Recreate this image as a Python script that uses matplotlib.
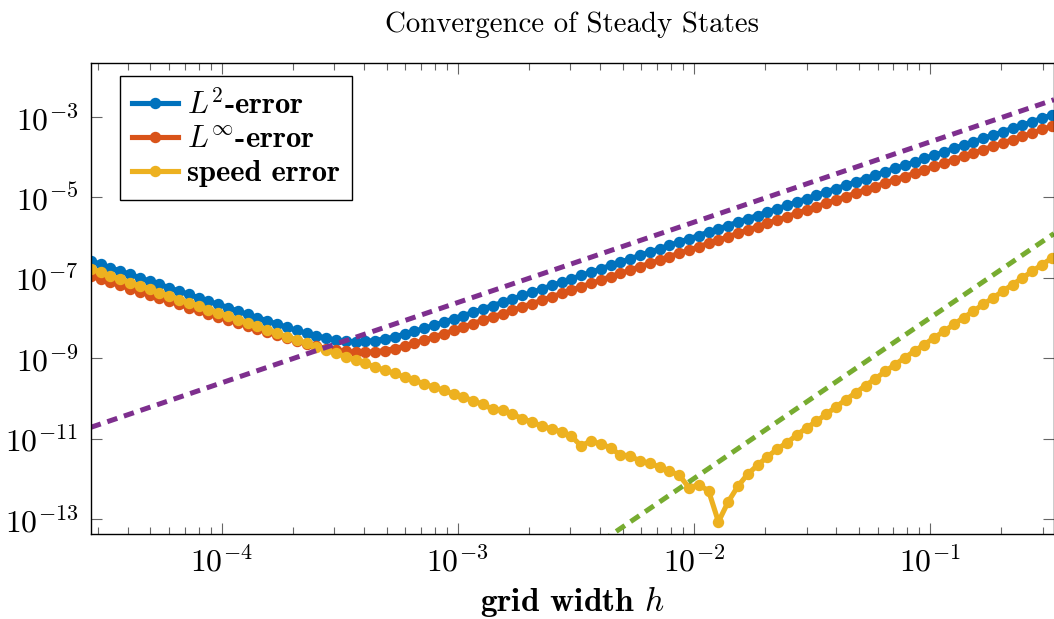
import numpy as np
import matplotlib
matplotlib.use("Agg")
import matplotlib.pyplot as plt
from matplotlib.ticker import FixedLocator, NullLocator, LogLocator

plt.rcParams["font.family"] = "cmr10"
plt.rcParams["mathtext.fontset"] = "cm"
plt.rcParams["axes.formatter.use_mathtext"] = True

# grid widths: 99 geometrically spaced values
h_min, h_max, n_points = 10**-4.554, 10**-0.484, 99
h = np.geomspace(h_min, h_max, n_points)

# log10 of the errors
l2_log = [
    -6.58, -6.66, -6.75, -6.83, -6.91, -7.00, -7.08, -7.16, -7.25, -7.33,
    -7.41, -7.50, -7.58, -7.66, -7.74, -7.83, -7.91, -7.99, -8.07, -8.15,
    -8.23, -8.31, -8.38, -8.44, -8.50, -8.55, -8.58, -8.59, -8.58, -8.56,
    -8.52, -8.47, -8.40, -8.33, -8.26, -8.18, -8.10, -8.02, -7.94, -7.86,
    -7.77, -7.69, -7.61, -7.53, -7.44, -7.36, -7.28, -7.19, -7.11, -7.03,
    -6.94, -6.86, -6.78, -6.69, -6.61, -6.53, -6.44, -6.36, -6.28, -6.19,
    -6.11, -6.03, -5.95, -5.86, -5.78, -5.70, -5.61, -5.53, -5.45, -5.36,
    -5.28, -5.20, -5.11, -5.03, -4.95, -4.86, -4.78, -4.70, -4.61, -4.53,
    -4.45, -4.36, -4.28, -4.20, -4.12, -4.03, -3.95, -3.87, -3.78, -3.70,
    -3.62, -3.53, -3.45, -3.37, -3.28, -3.20, -3.12, -3.03, -2.95]

linf_log = [
    -6.96, -7.03, -7.11, -7.19, -7.27, -7.35, -7.42, -7.50, -7.58, -7.66,
    -7.74, -7.81, -7.89, -7.97, -8.05, -8.12, -8.20, -8.28, -8.35, -8.43,
    -8.50, -8.57, -8.64, -8.70, -8.76, -8.80, -8.83, -8.85, -8.85, -8.84,
    -8.81, -8.76, -8.70, -8.63, -8.55, -8.47, -8.39, -8.31, -8.22, -8.14,
    -8.05, -7.97, -7.89, -7.81, -7.72, -7.64, -7.56, -7.47, -7.39, -7.31,
    -7.22, -7.14, -7.06, -6.97, -6.89, -6.81, -6.72, -6.64, -6.56, -6.47,
    -6.39, -6.31, -6.23, -6.14, -6.06, -5.98, -5.89, -5.81, -5.73, -5.64,
    -5.56, -5.48, -5.39, -5.31, -5.23, -5.14, -5.06, -4.98, -4.89, -4.81,
    -4.73, -4.64, -4.56, -4.48, -4.40, -4.31, -4.23, -4.15, -4.06, -3.98,
    -3.90, -3.81, -3.73, -3.65, -3.56, -3.48, -3.40, -3.31, -3.23]

speed_log = [
    -6.78, -6.86, -6.95, -7.03, -7.12, -7.20, -7.28, -7.37, -7.45, -7.54,
    -7.62, -7.70, -7.79, -7.87, -7.96, -8.04, -8.12, -8.21, -8.29, -8.38,
    -8.46, -8.54, -8.63, -8.71, -8.80, -8.88, -8.96, -9.05, -9.13, -9.22,
    -9.30, -9.38, -9.47, -9.55, -9.64, -9.72, -9.80, -9.89, -9.97, -10.06,
    -10.15, -10.27, -10.29, -10.40, -10.50, -10.59, -10.69, -10.76, -10.83, -10.94,
    -11.18, -11.06, -11.13, -11.23, -11.41, -11.43, -11.56, -11.61, -11.71, -11.81,
    -11.91, -12.22, -12.15, -12.30, -13.07, -12.57, -12.18, -11.88, -11.66, -11.45,
    -11.26, -11.10, -10.91, -10.73, -10.57, -10.39, -10.21, -10.03, -9.86, -9.68,
    -9.51, -9.33, -9.16, -8.99, -8.82, -8.66, -8.49, -8.33, -8.16, -7.99,
    -7.83, -7.66, -7.50, -7.33, -7.17, -7.00, -6.84, -6.67, -6.51]

# reference slopes (h^2 and h^4), end points in log10
ref_x = [h_min, 10**-0.475]
ref2_log = [-10.72, -2.57]
ref4_log = [-22.2, -5.9]

colors = {"l2": "#0072BD", "linf": "#D95319", "speed": "#EDB120",
          "ref2": "#7E2F8E", "ref4": "#77AC30"}

fig = plt.figure(figsize=(10.54, 6.19), dpi=100)
ax = fig.add_axes([0.0861, 0.1368, 0.9139, 0.7619])

lw, ms = 3.7, 7.2
ax.loglog(h, 10.0**np.array(l2_log), "-o", color=colors["l2"], lw=lw, ms=ms,
          label=r"$L^2$-error")
ax.loglog(h, 10.0**np.array(linf_log), "-o", color=colors["linf"], lw=lw, ms=ms,
          label=r"$L^\infty$-error")
ax.loglog(h, 10.0**np.array(speed_log), "-o", color=colors["speed"], lw=lw, ms=ms,
          label="speed error")
ax.loglog(ref_x, 10.0**np.array(ref2_log), color=colors["ref2"], lw=3.6,
          dashes=(2.1, 1.4), dash_capstyle="butt")
ax.loglog(ref_x, 10.0**np.array(ref4_log), color=colors["ref4"], lw=3.6,
          dashes=(2.1, 1.4), dash_capstyle="butt")

ax.set_xlim(10**-4.554, 10**-0.475)
ax.set_ylim(10**-13.381, 10**-1.649)

ax.yaxis.set_major_locator(FixedLocator(10.0**np.arange(-13, -2, 2)))
ax.yaxis.set_minor_locator(NullLocator())
ax.xaxis.set_major_locator(LogLocator(base=10, numticks=20))
ax.xaxis.set_minor_locator(LogLocator(base=10, subs=np.arange(2, 10), numticks=20))

ax.tick_params(which="both", direction="in", top=True, right=True,
               color="#666666", width=0.8, labelsize=22.8)
ax.tick_params(which="major", length=7.9)
ax.tick_params(which="minor", length=5.3)
ax.tick_params(axis="x", pad=8)
ax.tick_params(axis="y", pad=9)
for s in ax.spines.values():
    s.set_linewidth(1.0)

ax.set_title("Convergence of Steady States", fontsize=20.8, pad=22)
ax.set_xlabel("grid width $h$", fontfamily="cmb10", fontsize=24, labelpad=5)

leg = ax.legend(loc="upper left", bbox_to_anchor=(0.0304, 0.9718), borderaxespad=0,
                prop={"family": "cmb10", "size": 22}, fancybox=False,
                edgecolor="black", framealpha=1, handlelength=1.5,
                handletextpad=0.3, labelspacing=0.22, borderpad=0.4, numpoints=1)
leg.get_frame().set_linewidth(1.0)

fig.savefig("out.png", dpi=100)
